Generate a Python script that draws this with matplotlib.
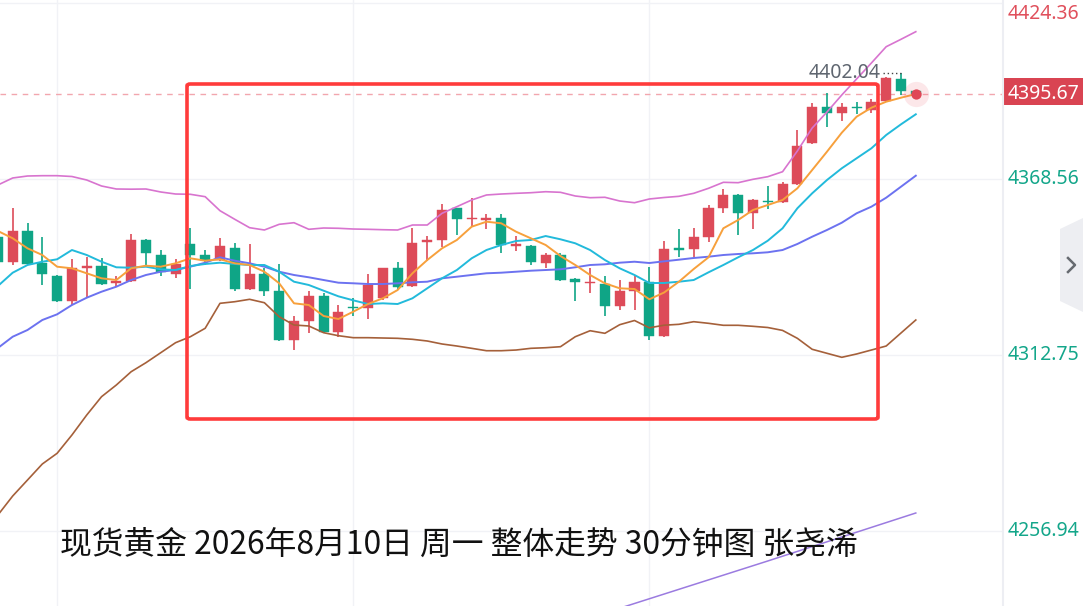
import matplotlib
matplotlib.use('Agg')
import matplotlib.pyplot as plt
from matplotlib import patches

plt.rcParams['font.family'] = ['Noto Sans CJK SC', 'DejaVu Sans']

# 30分钟K线，从左到右（最后一根为正在走的K线）
opens = [4350.26, 4342.14, 4352.07, 4342.02, 4337.80, 4329.87, 4340.43, 4340.97, 4335.49, 4336.21,
         4349.22, 4344.46, 4338.34, 4347.85, 4344.46, 4342.87, 4346.77, 4333.68, 4338.34, 4333.04,
         4317.51, 4323.63, 4331.46, 4320.14, 4327.91, 4327.56, 4330.73, 4340.24, 4334.63, 4348.49,
         4349.22, 4359.27, 4355.88, 4355.72, 4356.29, 4347.47, 4347.31, 4341.83, 4344.46, 4336.85,
         4335.64, 4335.26, 4328.29, 4333.04, 4335.90, 4318.77, 4346.46, 4346.30, 4350.26, 4359.27,
         4363.49, 4357.87, 4361.52, 4361.36, 4366.88, 4379.88, 4391.48, 4389.39, 4391.45, 4390.44,
         4393.29, 4400.17, 4396.31]
highs = [4351.00, 4359.27, 4354.51, 4350.26, 4338.00, 4343.10, 4343.73, 4343.41, 4337.80, 4351.12,
         4349.50, 4346.04, 4343.10, 4352.93, 4346.04, 4349.75, 4348.36, 4347.95, 4340.24, 4341.51,
         4325.12, 4333.14, 4332.51, 4328.60, 4330.73, 4338.34, 4340.40, 4342.24, 4352.93, 4350.58,
         4360.63, 4359.40, 4362.44, 4357.37, 4357.37, 4350.58, 4347.60, 4345.19, 4345.10, 4337.10,
         4340.24, 4337.80, 4336.53, 4338.12, 4340.65, 4348.83, 4352.61, 4352.93, 4360.31, 4365.39,
         4363.80, 4362.20, 4366.34, 4367.70, 4384.10, 4392.56, 4395.92, 4392.56, 4393.07, 4393.93,
         4400.90, 4402.04, 4396.50]
lows = [4341.50, 4341.29, 4341.30, 4334.95, 4329.60, 4328.60, 4331.05, 4335.00, 4334.41, 4336.00,
        4341.29, 4337.80, 4337.07, 4333.68, 4341.29, 4342.60, 4333.14, 4333.40, 4331.55, 4317.20,
        4314.33, 4319.82, 4319.63, 4318.55, 4325.12, 4324.07, 4330.20, 4333.36, 4334.40, 4342.65,
        4347.09, 4350.80, 4353.43, 4352.61, 4345.00, 4345.82, 4341.29, 4340.24, 4336.20, 4329.97,
        4332.51, 4325.12, 4327.02, 4327.02, 4317.51, 4318.50, 4343.67, 4343.73, 4348.68, 4357.87,
        4350.80, 4352.61, 4358.95, 4360.85, 4366.60, 4379.60, 4384.95, 4386.95, 4389.17, 4389.39,
        4393.00, 4395.20, 4395.40]
closes = [4342.33, 4352.07, 4341.61, 4338.34, 4329.87, 4340.24, 4341.07, 4335.17, 4336.21, 4349.22,
          4345.19, 4339.16, 4341.51, 4344.46, 4342.87, 4347.31, 4333.68, 4338.34, 4333.14, 4317.51,
          4323.53, 4331.46, 4320.14, 4326.38, 4327.59, 4334.95, 4340.24, 4334.41, 4348.17, 4349.22,
          4358.73, 4355.88, 4356.19, 4356.03, 4347.63, 4347.79, 4342.33, 4344.46, 4336.53, 4335.80,
          4335.96, 4328.29, 4333.04, 4335.90, 4318.77, 4346.30, 4346.14, 4350.17, 4359.27, 4363.49,
          4357.87, 4361.90, 4361.20, 4366.88, 4379.02, 4391.48, 4389.39, 4391.48, 4391.14, 4393.07,
          4400.68, 4396.31, 4395.67]

# 均线与布林带
ma5 = [4352.07, 4349.75, 4346.58, 4344.46, 4340.75, 4340.24, 4338.66, 4337.07, 4336.53, 4340.24,
       4341.07, 4340.75, 4341.83, 4343.41, 4342.65, 4343.10, 4341.83, 4341.29, 4339.16, 4335.49,
       4329.14, 4328.60, 4325.12, 4324.16, 4326.48, 4328.92, 4330.73, 4333.36, 4338.66, 4342.87,
       4346.58, 4349.22, 4353.43, 4355.02, 4354.51, 4351.85, 4349.75, 4347.63, 4344.14, 4341.29,
       4338.12, 4335.49, 4333.90, 4333.68, 4330.41, 4332.57, 4335.99, 4340.02, 4343.73, 4352.93,
       4355.56, 4358.73, 4360.31, 4361.90, 4365.61, 4371.41, 4377.22, 4383.24, 4388.31, 4391.17,
       4393.07, 4394.34, 4395.51]
ma10 = [4334.63, 4338.85, 4341.29, 4342.33, 4343.10, 4346.04, 4344.46, 4342.33, 4340.56, 4340.43,
        4340.75, 4339.93, 4339.70, 4340.97, 4341.61, 4342.02, 4341.61, 4341.29, 4341.29, 4339.16,
        4335.99, 4334.95, 4333.14, 4331.36, 4330.09, 4328.92, 4329.14, 4328.92, 4330.73, 4333.90,
        4337.07, 4339.70, 4343.41, 4346.04, 4347.63, 4348.90, 4349.22, 4350.48, 4349.44, 4348.17,
        4346.04, 4342.87, 4340.24, 4338.12, 4335.58, 4335.58, 4335.99, 4336.53, 4338.97, 4341.29,
        4343.73, 4346.04, 4348.99, 4352.93, 4359.27, 4364.02, 4368.24, 4371.95, 4375.12, 4378.29,
        4382.51, 4385.90, 4389.08]
boll_mid = [4314.97, 4318.55, 4320.68, 4323.85, 4325.65, 4328.60, 4330.92, 4332.82, 4334.41, 4336.53,
            4338.12, 4339.16, 4339.70, 4340.75, 4342.02, 4343.73, 4342.65, 4341.83, 4340.75, 4339.16,
            4338.12, 4337.39, 4336.53, 4335.68, 4335.49, 4335.26, 4335.26, 4335.49, 4335.80, 4335.99,
            4337.07, 4337.58, 4338.12, 4338.66, 4338.85, 4339.16, 4339.48, 4339.70, 4339.93, 4340.56,
            4341.29, 4341.51, 4342.02, 4342.33, 4341.92, 4342.46, 4342.97, 4343.51, 4343.92, 4344.46,
            4344.78, 4345.00, 4345.32, 4346.04, 4347.95, 4350.26, 4352.39, 4354.70, 4357.68, 4359.78,
            4362.63, 4366.12, 4369.61]
boll_up = [4366.66, 4368.88, 4369.51, 4369.61, 4369.61, 4369.35, 4368.24, 4366.34, 4365.39, 4365.33,
           4365.39, 4364.44, 4363.80, 4363.71, 4362.95, 4358.51, 4355.78, 4353.12, 4352.39, 4354.19,
           4354.70, 4352.61, 4353.02, 4352.93, 4352.70, 4352.61, 4352.48, 4352.39, 4353.97, 4353.97,
           4357.68, 4359.78, 4361.90, 4363.49, 4363.80, 4364.02, 4364.21, 4364.53, 4364.34, 4363.17,
           4362.63, 4362.76, 4361.58, 4361.04, 4362.22, 4362.69, 4363.07, 4364.02, 4365.61, 4367.51,
           4367.39, 4368.46, 4369.29, 4370.87, 4377.44, 4384.73, 4389.80, 4395.20, 4400.27, 4405.34,
           4410.51, 4412.86, 4415.27]
boll_dn = [4262.01, 4268.04, 4273.11, 4278.19, 4281.58, 4287.38, 4293.72, 4299.53, 4303.24, 4307.45,
           4310.31, 4313.48, 4316.65, 4318.55, 4321.22, 4329.14, 4329.65, 4330.41, 4329.33, 4324.89,
           4322.26, 4321.95, 4319.82, 4318.87, 4318.24, 4318.24, 4318.14, 4318.04, 4317.73, 4317.19,
           4316.24, 4315.60, 4314.87, 4314.11, 4314.11, 4314.33, 4314.87, 4315.06, 4315.38, 4318.55,
           4320.45, 4319.63, 4322.36, 4323.69, 4321.37, 4322.20, 4322.48, 4323.31, 4322.80, 4322.17,
           4322.17, 4321.85, 4321.47, 4320.55, 4318.04, 4314.56, 4313.29, 4312.02, 4313.07, 4314.33,
           4315.60, 4319.73, 4323.85]
# 远处的长周期均线（只在右下角露出一段）
ma_long_idx = [42, 52, 62]
ma_long = [4232.46, 4247.43, 4262.65]

price_ticks = [4424.36, 4368.56, 4312.75, 4256.94]
last_price = 4395.67
high_mark = 4402.04
title = '现货黄金 2026年8月10日 周一 整体走势 30分钟图 张尧浠'

UP = '#DD4B59'
DOWN = '#0FA586'

W, H = 1083, 606
fig = plt.figure(figsize=(W / 100, H / 100), dpi=100)
ax = fig.add_axes([0, 0, 1003 / W, 1])
ax.set_xlim(0.142, 67.89)
ax.set_ylim(4233.16, 4425.32)
for s in ax.spines.values():
    s.set_visible(False)
ax.set_xticks([])
ax.set_yticks([])

# 网格
for gx in [4, 24, 44]:
    ax.axvline(gx, color='#F1F2F6', lw=1, zorder=0)
for gy in price_ticks:
    ax.axhline(gy, color='#F1F2F6', lw=1, zorder=0)

# K线
n = len(opens)
xs = list(range(n))
min_h = 0.45
for i in xs:
    o, h, l, c = opens[i], highs[i], lows[i], closes[i]
    col = UP if c >= o else DOWN
    ax.vlines(i, l, h, color=col, lw=1.2, zorder=2)
    bot = min(o, c)
    hgt = max(abs(c - o), min_h)
    if abs(c - o) < min_h:
        bot = (o + c) / 2 - min_h / 2
    ax.bar(i, hgt, bottom=bot, width=0.68, color=col, edgecolor=col, lw=0.3, zorder=3)

# 线
ax.plot(xs, boll_up, color='#D874CF', lw=1.2, zorder=4)
ax.plot(xs, boll_dn, color='#A5603A', lw=1.2, zorder=4)
ax.plot(xs, boll_mid, color='#6C72F0', lw=1.4, zorder=4)
ax.plot(xs, ma10, color='#22BADB', lw=1.4, zorder=4)
ax.plot(xs, ma5, color='#F7A03C', lw=1.4, zorder=5)
ax.plot(ma_long_idx, ma_long, color='#9B7BE0', lw=1.1, zorder=4)

# 现价线和圆点
ax.axhline(last_price, color='#F2A6AE', lw=1, ls=(0, (4, 4)), zorder=1)
ax.scatter([n - 1], [last_price], s=330, color='#F06070', alpha=0.15, lw=0, zorder=6)
ax.scatter([n - 1], [last_price], s=55, color='#E04656', lw=0, zorder=7)

numfont = ['Noto Sans', 'DejaVu Sans']
NUMSIZE = 14

# 最高价标注
ax.text(59.6, high_mark, '4402.04', ha='right', va='center', fontsize=NUMSIZE,
        color='#5F6670', family=numfont, zorder=6)
ax.plot([59.8, 61], [high_mark, high_mark], color='#444444', lw=1, ls=(0, (1, 2)), zorder=6)

# 红框
rect = patches.FancyBboxPatch((187 / W, 1 - 419 / H), (878 - 187) / W, (419 - 84) / H,
                              boxstyle='round,pad=0,rounding_size=0.003',
                              transform=fig.transFigure, fill=False,
                              edgecolor='#FF3B3B', lw=2.6, zorder=10)
fig.add_artist(rect)

# 右侧价格轴
fig.add_artist(plt.Line2D([1003 / W, 1003 / W], [0, 1], transform=fig.transFigure,
                          color='#EDEEF3', lw=1.5))
lab_x = 1008 / W


def fig_y(p):
    # 价格 -> 画布纵向比例
    lo, hi = ax.get_ylim()
    return (p - lo) / (hi - lo)


fig.text(lab_x, 1 - 14 / H, f'{price_ticks[0]:.2f}', ha='left', va='center',
         fontsize=NUMSIZE, color='#E0505C', family=numfont)
for p in price_ticks[1:]:
    fig.text(lab_x, fig_y(p), f'{p:.2f}', ha='left', va='center', fontsize=NUMSIZE,
             color='#13A68A', family=numfont)
box = patches.Rectangle((1003 / W, 1 - 105 / H), 80 / W, 27 / H, transform=fig.transFigure,
                        facecolor='#D94452', edgecolor='none')
fig.add_artist(box)
price_txt = fig.text(lab_x, fig_y(last_price), f'{last_price:.2f}', ha='left', va='center',
                     fontsize=NUMSIZE, color='white', family=numfont)
price_txt.set_zorder(20)

# 右侧翻页按钮
btn = patches.Polygon([(1083 / W, 1 - 218 / H), (1060 / W, 1 - 229 / H), (1060 / W, 1 - 301 / H),
                       (1083 / W, 1 - 312 / H)], closed=True, transform=fig.transFigure,
                      facecolor='#EDEEF2', edgecolor='none')
fig.add_artist(btn)
fig.add_artist(plt.Line2D([1068 / W, 1075 / W, 1068 / W], [1 - 258 / H, 1 - 265 / H, 1 - 272 / H],
                          transform=fig.transFigure, color='#666A70', lw=1.8))

# 标题文字
fig.text(60 / W, 1 - 545 / H, title, ha='left', va='center', fontsize=22.9, color='#111111')

fig.savefig('out.png', dpi=100)
